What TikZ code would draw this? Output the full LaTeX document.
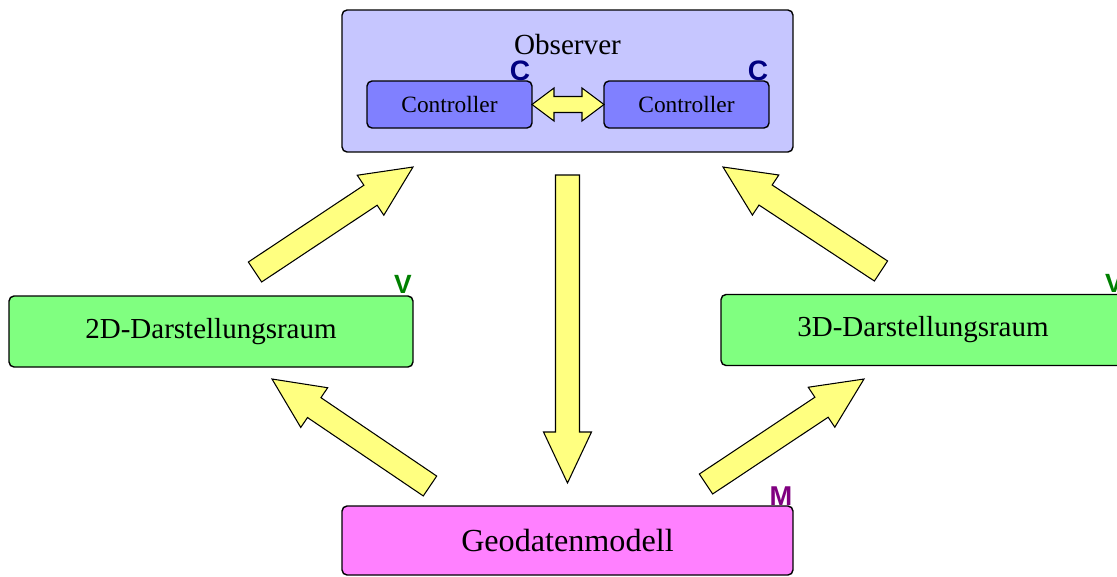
\documentclass[tikz,border=0pt]{standalone}
\usepackage{fontspec}
\setmainfont{Liberation Serif}
\newfontfamily\tagfont{Liberation Sans}
\usepackage{tikz}
\usetikzlibrary{calc}
\definecolor{obscolor}{HTML}{C6C6FF}
\definecolor{ctrlcolor}{HTML}{8080FF}
\definecolor{viewcolor}{HTML}{80FF80}
\definecolor{modelcolor}{HTML}{FF80FF}
\definecolor{arrowcolor}{HTML}{FFFF80}
\definecolor{ccolor}{HTML}{000080}
\definecolor{vcolor}{HTML}{008000}
\definecolor{mcolor}{HTML}{800080}

%% fat block arrow: #1 tail, #2 tip
\newcommand{\fatarrow}[2]{%
  \coordinate (fahead) at ($(#2)!1.02cm!(#1)$);
  \draw[fatarrow] ($(#1)!0.24cm!90:(#2)$) -- ($(fahead)!0.24cm!-90:(#1)$)
    -- ($(fahead)!0.48cm!-90:(#1)$) -- (#2)
    -- ($(fahead)!0.48cm!90:(#1)$) -- ($(fahead)!0.24cm!90:(#1)$)
    -- ($(#1)!0.24cm!-90:(#2)$) -- cycle;}

\begin{document}
\begin{tikzpicture}[x=0.02cm,y=-0.02cm,
  box/.style={draw, line width=0.8pt, rounded corners=0.1cm, inner sep=0pt, outer sep=0pt,
    font=\fontsize{16.5}{18}\selectfont},
  obsbox/.style={box, fill=obscolor, minimum width=9.02cm, minimum height=2.84cm},
  ctrlbox/.style={box, fill=ctrlcolor, minimum width=3.3cm, minimum height=0.94cm,
    font=\fontsize{13.3}{15}\selectfont},
  viewbox/.style={box, fill=viewcolor, minimum width=8.08cm, minimum height=1.42cm},
  modelbox/.style={box, fill=modelcolor, minimum width=9.02cm, minimum height=1.38cm,
    font=\fontsize{18.3}{20}\selectfont},
  fatarrow/.style={draw, fill=arrowcolor, line width=0.6pt, line join=miter},
  tag/.style={inner sep=0pt, anchor=base},
  ctag/.style={tag, text=ccolor, font=\tagfont\bfseries\fontsize{16}{18}\selectfont},
  vtag/.style={tag, text=vcolor, font=\tagfont\bfseries\fontsize{15}{17}\selectfont},
  mtag/.style={tag, text=mcolor, font=\tagfont\bfseries\fontsize{15.5}{17}\selectfont}]
\useasboundingbox (0,0) rectangle (1117,576);

%% boxes
\node[obsbox] (obs) at (567.5,81) {};
\node[font=\fontsize{16.6}{18}\selectfont, inner sep=0pt] (obstitle) at ($(obs.north)+(0,35)$) {Observer};
\node[ctrlbox] (ctrl1) at (449.5,104.5) {Controller};
\node[ctrlbox] (ctrl2) at (686.5,104.5) {Controller};
\node[viewbox] (v2d) at (211,331.5) {2D-Darstellungsraum};
\node[viewbox] (v3d) at (923,330) {3D-Darstellungsraum};
\node[modelbox] (geo) at (567.5,540.5) {Geodatenmodell};

%% letters
\node[ctag] (c1) at ($(ctrl1.north east)+(-12,-1)$) {C};
\node[ctag] (c2) at ($(ctrl2.north east)+(-11,-1)$) {C};
\node[vtag] (v1) at ($(v2d.north east)+(-10,-3)$) {V};
\node[vtag] (v2) at ($(v3d.north east)+(-11,-2)$) {V};
\node[mtag] (m1) at ($(geo.north east)+(-12,-1)$) {M};

%% controller <-> controller
\draw[fatarrow] (ctrl1.east) -- ++(22,-16.5) -- ++(0,8.5) -- ++(28,0) -- ++(0,-8.5)
  -- (ctrl2.west) -- ++(-22,16.5) -- ++(0,-8.5) -- ++(-28,0) -- ++(0,8.5) -- cycle;

%% block arrows
\coordinate (downtail) at (567.5,175);
\coordinate (downtip) at (567.5,483);
\coordinate (ultail) at (255,272);
\coordinate (ultip) at (413,167);
\coordinate (urtail) at (881,271);
\coordinate (urtip) at (723,167);
\coordinate (lltail) at (430,486);
\coordinate (lltip) at (272,379);
\coordinate (lrtail) at (706,484);
\coordinate (lrtip) at (864,379);
\fatarrow{downtail}{downtip}
\fatarrow{ultail}{ultip}
\fatarrow{urtail}{urtip}
\fatarrow{lltail}{lltip}
\fatarrow{lrtail}{lrtip}
\end{tikzpicture}
\end{document}
